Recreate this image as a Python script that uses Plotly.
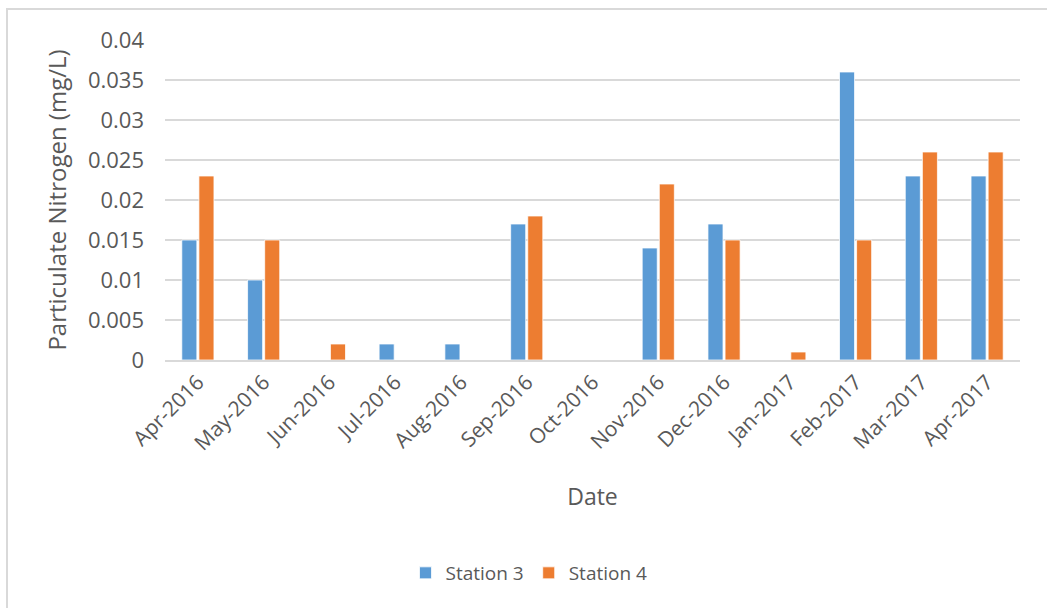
import plotly.graph_objects as go

dates = ["Apr-2016", "May-2016", "Jun-2016", "Jul-2016", "Aug-2016", "Sep-2016", "Oct-2016",
         "Nov-2016", "Dec-2016", "Jan-2017", "Feb-2017", "Mar-2017", "Apr-2017"]
station3 = [0.015, 0.010, 0, 0.002, 0.002, 0.017, 0, 0.014, 0.017, 0, 0.036, 0.023, 0.023]
station4 = [0.023, 0.015, 0.002, 0, 0, 0.018, 0, 0.022, 0.015, 0.001, 0.015, 0.026, 0.026]
y_ticks = [0, 0.005, 0.01, 0.015, 0.02, 0.025, 0.03, 0.035, 0.04]
y_ticktext = ["0", "0.005", "0.01", "0.015", "0.02", "0.025", "0.03", "0.035", "0.04"]

FONT = "Open Sans"
GREY = "#595959"

fig = go.Figure()
fig.add_trace(go.Bar(x=dates, y=station3, name="Station 3", marker=dict(color="#5B9BD5", line=dict(color="white", width=0.75))))
fig.add_trace(go.Bar(x=dates, y=station4, name="Station 4", marker=dict(color="#ED7D31", line=dict(color="white", width=0.75))))

W, H = 1047, 608
L, R, T, B = 165, 27, 40, 248
pw, ph = W - L - R, H - T - B

def px_x(p):
    return (p - L) / pw

def px_y(p):
    return (H - B - p) / ph

fig.update_layout(
    width=W, height=H,
    margin=dict(l=L, r=R, t=T, b=B, autoexpand=False),
    paper_bgcolor="white", plot_bgcolor="white",
    font=dict(family=FONT, color=GREY, size=20),
    barmode="group", bargap=0.48, bargroupgap=0.12,
    showlegend=True,
    legend=dict(orientation="h", x=px_x(529), y=px_y(573), xanchor="center", yanchor="middle",
                font=dict(size=19, color=GREY), itemwidth=30, traceorder="normal"),
    xaxis=dict(type="category", tickangle=-45, showgrid=False, showline=True, linecolor="#D9D9D9",
               linewidth=1.5, ticks="", tickfont=dict(size=21, color=GREY),
               title=dict(text="Date", font=dict(size=23, color=GREY), standoff=34)),
    yaxis=dict(range=[0, 0.04], tickvals=y_ticks, ticktext=y_ticktext, showgrid=True,
               gridcolor="#D9D9D9", gridwidth=1.5, zeroline=False, showline=False, ticks="",
               ticklabelstandoff=20, tickfont=dict(size=22, color=GREY),
               title=dict(text="Particulate Nitrogen (mg/L)", font=dict(size=24, color=GREY), standoff=14)),
    shapes=[dict(type="rect", xref="paper", yref="paper",
                 x0=px_x(7), x1=px_x(1060), y0=px_y(620), y1=px_y(9),
                 line=dict(color="#D9D9D9", width=2), fillcolor="rgba(0,0,0,0)", layer="below")],
)

fig.write_html("out.html")
